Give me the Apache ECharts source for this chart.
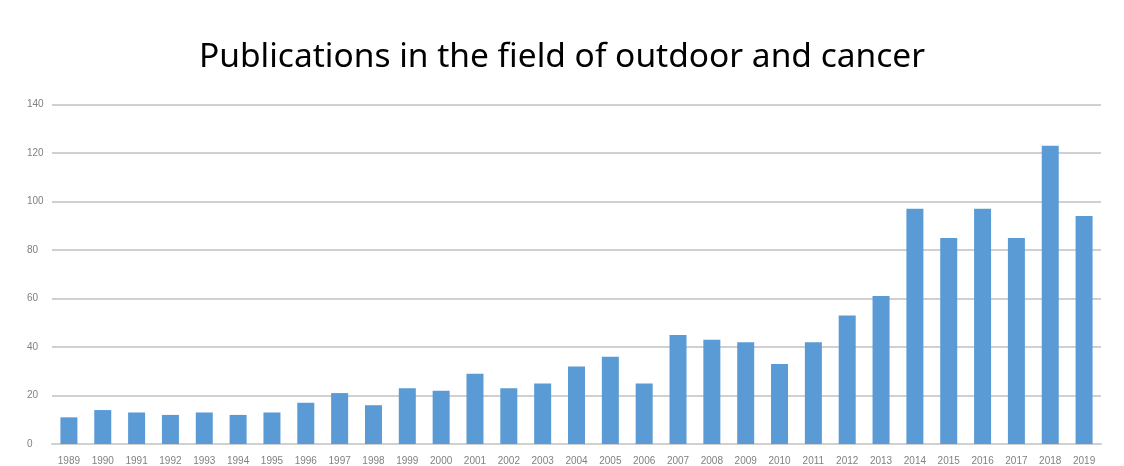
<!DOCTYPE html>
<html>
<head>
<meta charset="utf-8">
<script src="https://cdn.jsdelivr.net/npm/echarts@6/dist/echarts.min.js"></script>
<style>
html,body{margin:0;padding:0;background:#fff;}
#chart{width:1124px;height:466px;}
</style>
</head>
<body>
<div id="chart"></div>
<script>
const titleText = "Publications in the field of outdoor and cancer";
const years = ["1989","1990","1991","1992","1993","1994","1995","1996","1997","1998","1999","2000","2001","2002","2003","2004","2005","2006","2007","2008","2009","2010","2011","2012","2013","2014","2015","2016","2017","2018","2019"];
const publications = [11,14,13,12,13,12,13,17,21,16,23,22,29,23,25,32,36,25,45,43,42,33,42,53,61,97,85,97,85,123,94];
const yTicks = [0,20,40,60,80,100,120,140];

const chart = echarts.init(document.getElementById('chart'));
chart.setOption({
  animation: false,
  backgroundColor: '#fff',
  title: {
    text: titleText,
    left: 'center',
    top: 35,
    textStyle: {fontFamily: 'Noto Sans', fontSize: 33.5, fontWeight: 'normal', color: '#000'}
  },
  grid: {left: 52, right: 23, top: 104.5, bottom: 22, containLabel: false},
  xAxis: {
    type: 'category',
    data: years,
    axisTick: {show: false},
    axisLine: {lineStyle: {color: '#d0d0d0', width: 2}},
    axisLabel: {color: '#808080', fontSize: 10, fontFamily: 'Liberation Sans', margin: 12, interval: 0}
  },
  yAxis: {
    type: 'value',
    min: yTicks[0],
    max: yTicks[yTicks.length-1],
    interval: 20,
    axisLine: {show: false},
    axisTick: {show: false},
    splitLine: {lineStyle: {color: '#d0d0d0', width: 2}},
    axisLabel: {color: '#808080', fontSize: 10, fontFamily: 'Liberation Sans', margin: 10, align: 'left', padding: [0,0,0,-15]}
  },
  series: [{
    type: 'bar',
    data: publications,
    barWidth: 17,
    itemStyle: {color: '#5b9bd5'}
  }]
});
</script>
</body>
</html>
